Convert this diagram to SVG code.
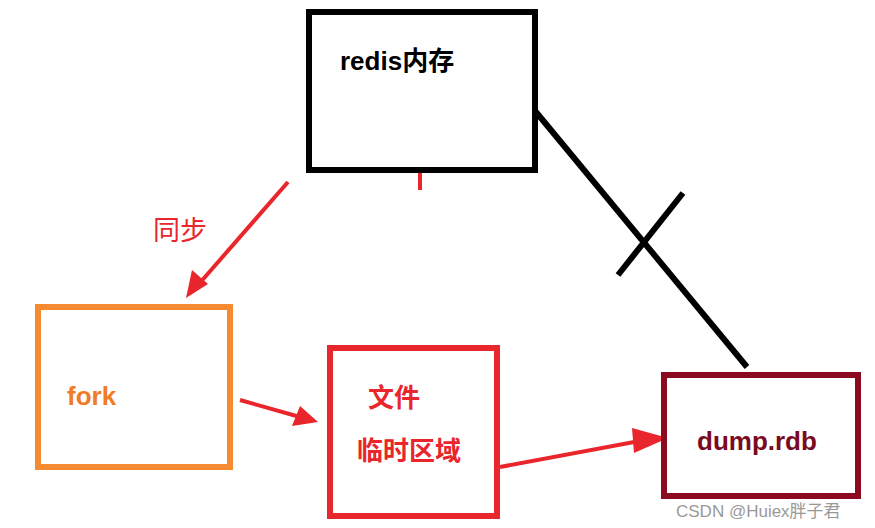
<svg xmlns="http://www.w3.org/2000/svg" width="875" height="528" viewBox="0 0 875 528">
<style>
.box{fill:#fff;stroke-width:6}
.t{font-family:"Liberation Sans","Noto Sans CJK SC",sans-serif;font-weight:bold;font-size:26px}
.cj{font-family:"Noto Sans CJK SC",sans-serif;font-weight:bold;font-size:26px}
.red{stroke:#e8262b;fill:none;stroke-width:4}
</style>
<rect width="875" height="528" fill="#fff"/>
<g id="connectors">
<path d="M288 182 L198 285" class="red"/>
<polygon points="186,298 192,270 208,284" fill="#e8262b"/>
<path d="M240 400 L300 417" class="red"/>
<polygon points="318,422 292,426 300,406" fill="#e8262b"/>
<path d="M420 172 L420 190" class="red" stroke-width="6"/>
<path d="M500 467 L645 440" class="red" stroke-width="6"/>
<polygon points="668,438 634,453 632,428" fill="#e8262b"/>
<path d="M536 112 L747 367" stroke="#000" stroke-width="6"/>
<path d="M618 275 L683 193" stroke="#000" stroke-width="6"/>
</g>
<g id="redis"><rect x="309" y="12" width="226" height="158" class="box" stroke="#000"/>
<text x="340" y="70" class="t" fill="#000">redis<tspan class="cj">内存</tspan></text></g>
<g id="fork"><rect x="38" y="307" width="192" height="160" class="box" stroke="#f58a30"/>
<text x="67" y="405" class="t" fill="#f07c25">fork</text></g>
<g id="temp"><rect x="330" y="348" width="167" height="168" class="box" stroke="#e8262b"/>
<text x="368" y="407" class="cj" fill="#e8262b">文件</text>
<text x="357" y="460" class="cj" fill="#e8262b">临时区域</text></g>
<g id="dump"><rect x="664" y="375" width="194" height="121" class="box" stroke="#8b0a1f"/>
<text x="697" y="450" class="t" fill="#7a0a1e">dump.rdb</text></g>
<text x="153" y="240" font-family="Noto Sans CJK SC,sans-serif" font-size="27" fill="#e8262b">同步</text>
<text x="676" y="517" font-family="Liberation Sans,Noto Sans CJK SC,sans-serif" font-size="17" fill="#999">CSDN @Huiex胖子君</text>
</svg>
